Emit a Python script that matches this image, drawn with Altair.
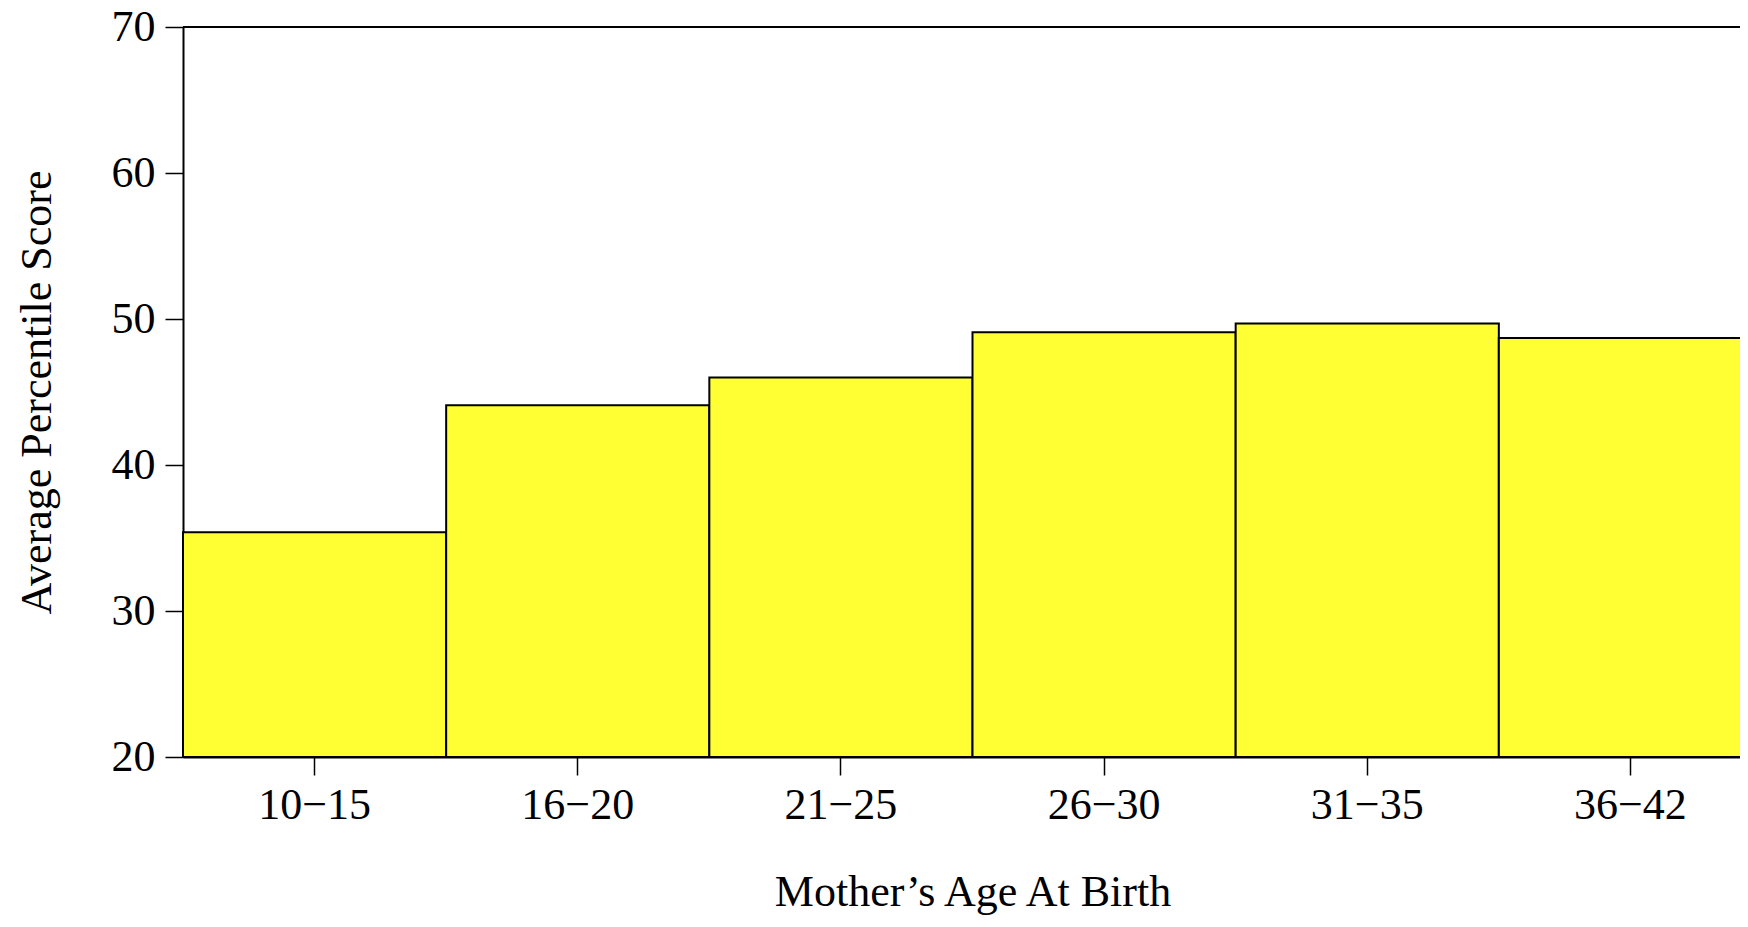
import altair as alt
import pandas as pd

ages = ["10−15", "16−20", "21−25", "26−30", "31−35", "36−42"]
scores = [35.4, 44.1, 46.0, 49.1, 49.7, 48.7]
y_ticks = [20, 30, 40, 50, 60, 70]

df = pd.DataFrame({"age": ages, "score": scores})

FONT = "Liberation Serif"
FS = 44

bars = alt.Chart(df).mark_bar(fill="#ffff33", stroke="black", strokeWidth=2).encode(
    x=alt.X(
        "age:N",
        sort=ages,
        scale=alt.Scale(paddingInner=0, paddingOuter=0, range=[0, 1579]),
        axis=alt.Axis(
            title="Mother’s Age At Birth",
            labelAngle=0,
            tickSize=18,
            labelPadding=8,
            titlePadding=43,
        ),
    ),
    y=alt.Y(
        "score:Q",
        scale=alt.Scale(domain=[20, 70], zero=False, nice=False),
        axis=alt.Axis(
            values=y_ticks,
            title="Average Percentile Score",
            tickSize=18,
            labelPadding=10,
            titlePadding=52,
            grid=False,
        ),
    ),
    y2=alt.datum(20),
)

top = alt.Chart(df).mark_rule(color="black", strokeWidth=2).encode(y=alt.datum(70))

chart = (
    alt.layer(bars, top)
    .properties(
        width=1557,
        height=730,
        autosize=alt.AutoSizeParams(type="none"),
        padding={"left": 175, "top": 19, "right": 0, "bottom": 160},
    )
    .configure_view(stroke=None)
    .configure_axis(
        labelFont=FONT,
        titleFont=FONT,
        labelFontSize=FS,
        titleFontSize=FS,
        titleFontWeight="normal",
        labelColor="black",
        titleColor="black",
        domainColor="black",
        domainWidth=2,
        tickColor="black",
        tickWidth=1.5,
        grid=False,
    )
)

chart.save("out.html", embed_options={"renderer": "svg", "actions": False})
